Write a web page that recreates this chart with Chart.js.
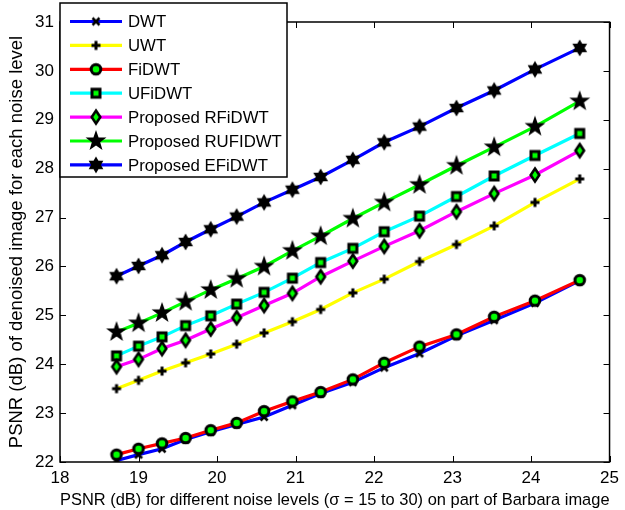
<!DOCTYPE html>
<html>
<head>
<meta charset="utf-8">
<script src="https://cdn.jsdelivr.net/npm/chart.js@4"></script>
<style>
  body { margin: 0; background: #fff; }
</style>
</head>
<body>
<canvas id="psnrChart" width="625" height="510"></canvas>
<script>
// noisy image PSNR (x) for sigma = 15..30
const noisyPsnr = [18.72, 19.00, 19.30, 19.60, 19.92, 20.25, 20.60, 20.96, 21.32, 21.73, 22.13, 22.58, 23.05, 23.53, 24.05, 24.62];

const dwt     = [22.03, 22.15, 22.27, 22.46, 22.62, 22.77, 22.92, 23.16, 23.40, 23.63, 23.93, 24.22, 24.58, 24.90, 25.25, 25.71];
const uwt     = [23.50, 23.67, 23.86, 24.03, 24.21, 24.41, 24.64, 24.87, 25.12, 25.46, 25.74, 26.10, 26.45, 26.83, 27.31, 27.79];
const fidwt   = [22.15, 22.27, 22.38, 22.49, 22.65, 22.80, 23.04, 23.24, 23.43, 23.69, 24.03, 24.36, 24.61, 24.97, 25.30, 25.72];
const ufidwt  = [24.17, 24.37, 24.56, 24.79, 24.99, 25.23, 25.47, 25.76, 26.08, 26.37, 26.71, 27.03, 27.43, 27.85, 28.27, 28.72];
const rfidwt  = [23.95, 24.10, 24.32, 24.49, 24.72, 24.95, 25.20, 25.45, 25.79, 26.11, 26.41, 26.73, 27.12, 27.49, 27.87, 28.37];
const rufidwt = [24.66, 24.84, 25.05, 25.28, 25.52, 25.75, 26.00, 26.32, 26.62, 26.98, 27.31, 27.67, 28.06, 28.44, 28.86, 29.38];
const efidwt  = [25.80, 26.01, 26.23, 26.50, 26.76, 27.02, 27.31, 27.57, 27.83, 28.18, 28.54, 28.86, 29.24, 29.60, 30.03, 30.47];

const seriesNames = ["DWT", "UWT", "FiDWT", "UFiDWT", "Proposed RFiDWT", "Proposed RUFIDWT", "Proposed EFiDWT"];
const seriesData = [dwt, uwt, fidwt, ufidwt, rfidwt, rufidwt, efidwt];
const lineColors = ["#0000ff", "#ffff00", "#ff0000", "#00ffff", "#ff00ff", "#00ff00", "#0000ff"];
const markerKinds = ["x", "plus", "circle", "square", "diamond", "pentagram", "hexagram"];

const FONT = "'Liberation Sans', Arial, Helvetica, sans-serif";

// matlab-like marker images
function makeMarker(kind) {
    let c = document.createElement("canvas");
    c.width = 26;
    c.height = 26;
    let g = c.getContext("2d");
    g.translate(13, 13);
    g.strokeStyle = "#000";
    g.fillStyle = "#000";
    if (kind === "x") {
        g.lineWidth = 2.6;
        g.beginPath();
        g.moveTo(-3.5, -3.5); g.lineTo(3.5, 3.5);
        g.moveTo(3.5, -3.5); g.lineTo(-3.5, 3.5);
        g.stroke();
    } else if (kind === "plus") {
        g.lineWidth = 3;
        g.beginPath();
        g.moveTo(-4.5, 0); g.lineTo(4.5, 0);
        g.moveTo(0, -4.5); g.lineTo(0, 4.5);
        g.stroke();
    } else if (kind === "circle") {
        g.lineWidth = 3;
        g.beginPath();
        g.arc(0, 0, 4.8, 0, Math.PI * 2);
        g.fillStyle = "#00ff00";
        g.fill();
        g.stroke();
    } else if (kind === "square") {
        g.lineWidth = 3;
        g.fillStyle = "#00ff00";
        g.fillRect(-4, -4, 8, 8);
        g.strokeRect(-4, -4, 8, 8);
    } else if (kind === "diamond") {
        g.lineWidth = 2.6;
        g.beginPath();
        g.moveTo(0, -6.5); g.lineTo(4.3, 0); g.lineTo(0, 6.5); g.lineTo(-4.3, 0);
        g.closePath();
        g.fillStyle = "#00ff00";
        g.fill();
        g.stroke();
    } else if (kind === "pentagram") {
        g.beginPath();
        for (let k = 0; k < 10; k++) {
            let r = k % 2 === 0 ? 11 : 4.4;
            let a = -Math.PI / 2 + k * Math.PI / 5;
            g.lineTo(r * Math.cos(a), r * Math.sin(a));
        }
        g.closePath();
        g.fill();
    } else if (kind === "hexagram") {
        g.beginPath();
        for (let k = 0; k < 12; k++) {
            let r = k % 2 === 0 ? 8.5 : 4.9;
            let a = -Math.PI / 2 + k * Math.PI / 6;
            g.lineTo(r * Math.cos(a), r * Math.sin(a));
        }
        g.closePath();
        g.fill();
    }
    return c;
}

const markers = markerKinds.map(makeMarker);

let datasets = seriesNames.map(function (name, i) {
    return {
        label: name,
        data: seriesData[i].map(function (v, j) { return { x: noisyPsnr[j], y: v }; }),
        borderColor: lineColors[i],
        backgroundColor: lineColors[i],
        borderWidth: 3.2,
        pointStyle: markers[i],
        pointRadius: 6,
        pointHoverRadius: 6,
        tension: 0,
        order: seriesNames.length - i,
    };
});

// box, inner ticks and legend like the matlab figure
const matlabFrame = {
    id: "matlabFrame",
    afterDraw(chart) {
        let ctx = chart.ctx;
        let a = chart.chartArea;
        let xs = chart.scales.x;
        let ys = chart.scales.y;
        ctx.save();
        ctx.strokeStyle = "#000";
        ctx.lineWidth = 1.5;
        ctx.strokeRect(a.left, a.top, a.right - a.left, a.bottom - a.top);
        ctx.lineWidth = 1;
        ctx.beginPath();
        xs.ticks.forEach(function (t) {
            let px = Math.round(xs.getPixelForValue(t.value)) + 0.5;
            ctx.moveTo(px, a.bottom); ctx.lineTo(px, a.bottom - 6);
            ctx.moveTo(px, a.top); ctx.lineTo(px, a.top + 6);
        });
        ys.ticks.forEach(function (t) {
            let py = Math.round(ys.getPixelForValue(t.value)) + 0.5;
            ctx.moveTo(a.left, py); ctx.lineTo(a.left + 6, py);
            ctx.moveTo(a.right, py); ctx.lineTo(a.right - 6, py);
        });
        ctx.stroke();

        // legend
        let bx = 60, by = 3, bw = 227, bh = 174;
        ctx.fillStyle = "#fff";
        ctx.fillRect(bx, by, bw, bh);
        ctx.lineWidth = 1.5;
        ctx.strokeRect(bx, by, bw, bh);
        ctx.font = "16.8px " + FONT;
        ctx.textBaseline = "middle";
        ctx.textAlign = "left";
        chart.data.datasets.forEach(function (ds, i) {
            let y = 21.5 + i * 23.9;
            ctx.strokeStyle = ds.borderColor;
            ctx.lineWidth = 3.2;
            ctx.beginPath();
            ctx.moveTo(70, y);
            ctx.lineTo(122, y);
            ctx.stroke();
            let m = ds.pointStyle;
            ctx.drawImage(m, 96 - m.width / 2, y - m.height / 2);
            ctx.fillStyle = "#000";
            ctx.fillText(ds.label, 128, y + 1);
        });
        ctx.restore();
    },
};

let ctx = document.getElementById("psnrChart").getContext("2d");
let myChart = new Chart(ctx, {
    type: "line",
    data: { datasets: datasets },
    options: {
        responsive: false,
        animation: false,
        layout: { padding: { top: 22, right: 10, left: 0, bottom: 0 } },
        plugins: {
            legend: { display: false },
            tooltip: { enabled: false },
        },
        scales: {
            x: {
                type: "linear",
                min: 18,
                max: 25,
                grid: { display: false, drawTicks: false },
                border: { display: false },
                ticks: {
                    stepSize: 1,
                    color: "#000",
                    padding: 6,
                    maxRotation: 0,
                    font: { family: FONT, size: 17 },
                },
                title: {
                    display: true,
                    text: "PSNR (dB) for different noise levels (\u03c3 = 15 to 30) on part of Barbara image",
                    color: "#000",
                    padding: { top: 3, bottom: 0 },
                    font: { family: FONT, size: 16.8 },
                },
                afterFit(scale) { scale.height = 48; },
            },
            y: {
                type: "linear",
                min: 22,
                max: 31,
                grid: { display: false, drawTicks: false },
                border: { display: false },
                ticks: {
                    stepSize: 1,
                    color: "#000",
                    padding: 6,
                    font: { family: FONT, size: 17 },
                },
                title: {
                    display: true,
                    text: "PSNR (dB) of denoised image for each noise level",
                    color: "#000",
                    padding: { top: 6, bottom: 0 },
                    font: { family: FONT, size: 18.5 },
                },
                afterFit(scale) { scale.width = 60; },
            },
        },
    },
    plugins: [matlabFrame],
});
</script>
</body>
</html>
